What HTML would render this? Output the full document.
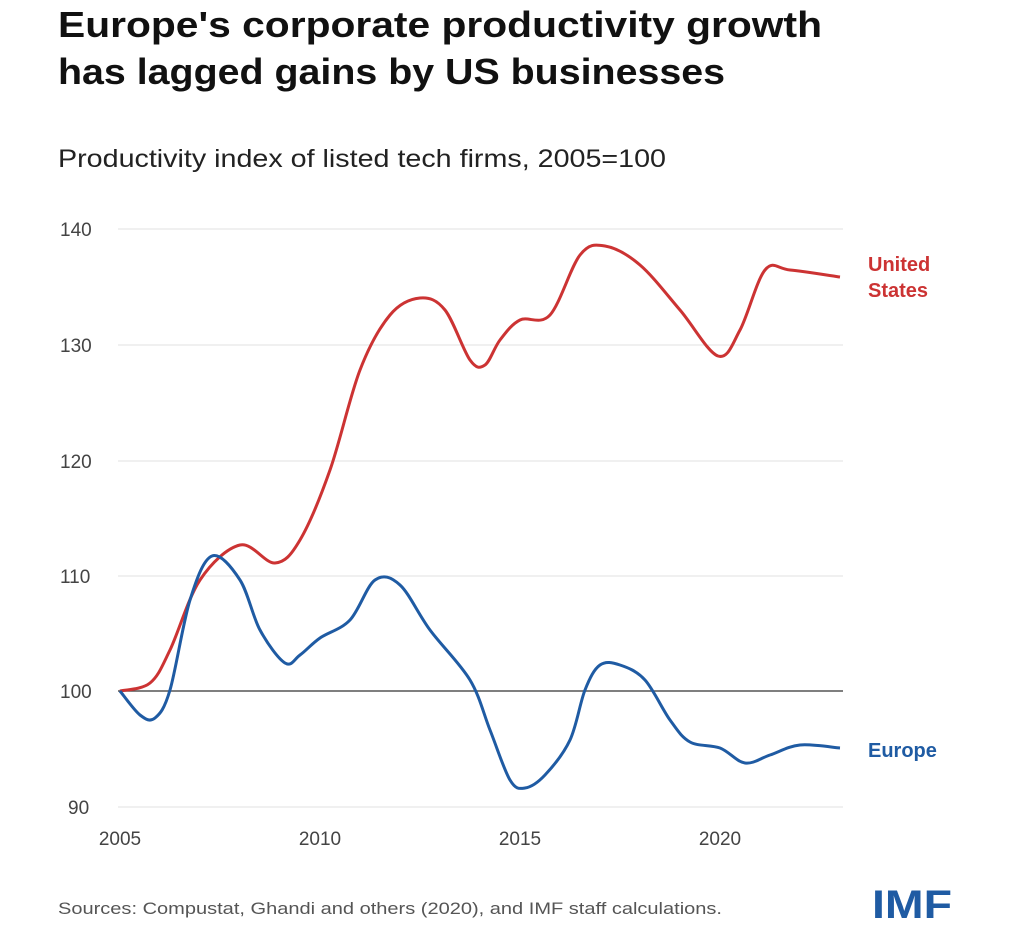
<!DOCTYPE html>
<html><head><meta charset="utf-8"><style>
body{margin:0;background:#fff;width:1024px;height:943px;overflow:hidden;font-family:"Liberation Sans",sans-serif}
</style></head><body>
<svg width="1024" height="943" xmlns="http://www.w3.org/2000/svg" font-family="Liberation Sans, sans-serif">
<text x="58" y="37" font-size="36" font-weight="bold" fill="#111" textLength="764" lengthAdjust="spacingAndGlyphs">Europe's corporate productivity growth</text>
<text x="58" y="84" font-size="36" font-weight="bold" fill="#111" textLength="667" lengthAdjust="spacingAndGlyphs">has lagged gains by US businesses</text>
<text x="58" y="167" font-size="25" fill="#222" textLength="608" lengthAdjust="spacingAndGlyphs">Productivity index of listed tech firms, 2005=100</text>
<g stroke="#e2e2e2" stroke-width="1">
<line x1="118" x2="843" y1="229" y2="229"/><line x1="118" x2="843" y1="345" y2="345"/>
<line x1="118" x2="843" y1="461" y2="461"/><line x1="118" x2="843" y1="576" y2="576"/>
<line x1="118" x2="843" y1="807" y2="807"/></g>
<line x1="118" x2="843" y1="691" y2="691" stroke="#555" stroke-width="1.5"/>
<g font-size="19" fill="#444">
<text x="60" y="236">140</text><text x="60" y="352">130</text><text x="60" y="468">120</text>
<text x="60" y="583">110</text><text x="60" y="698">100</text><text x="68" y="814">90</text>
<text x="120" y="845" text-anchor="middle">2005</text><text x="320" y="845" text-anchor="middle">2010</text>
<text x="520" y="845" text-anchor="middle">2015</text><text x="720" y="845" text-anchor="middle">2020</text></g>
<path id="us" fill="none" stroke="#cc3333" stroke-width="3"/>
<path id="eu" fill="none" stroke="#1f5ba3" stroke-width="3"/>
<text x="868" y="271" font-size="20" font-weight="bold" fill="#cc3333">United</text>
<text x="868" y="297" font-size="20" font-weight="bold" fill="#cc3333">States</text>
<text x="868" y="757" font-size="20" font-weight="bold" fill="#1f5ba3">Europe</text>
<text x="58" y="914" font-size="17" fill="#555" textLength="664" lengthAdjust="spacingAndGlyphs">Sources: Compustat, Ghandi and others (2020), and IMF staff calculations.</text>
<text x="872" y="918" font-size="40" font-weight="bold" fill="#1f5ba3" textLength="80" lengthAdjust="spacingAndGlyphs">IMF</text>
</svg>
<script>
function cr(p){let d="M"+p[0][0]+","+p[0][1];for(let i=0;i<p.length-1;i++){const a=p[Math.max(0,i-1)],b=p[i],c=p[i+1],e=p[Math.min(p.length-1,i+2)];
d+=" C"+(b[0]+(c[0]-a[0])/6)+","+(b[1]+(c[1]-a[1])/6)+" "+(c[0]-(e[0]-b[0])/6)+","+(c[1]-(e[1]-b[1])/6)+" "+c[0]+","+c[1];}return d;}
document.getElementById("us").setAttribute("d",cr([[120,691],[150,683],[170,650],[200,580],[240,545],[275,563],[300,540],[330,470],[360,370],[390,315],[420,298],[445,310],[470,360],[485,365],[500,340],[520,320],[550,315],[580,255],[605,246],[640,265],[680,310],[718,356],[740,330],[765,270],[790,270],[840,277]]));
document.getElementById("eu").setAttribute("d",cr([[120,691],[140,715],[155,718],[170,690],[190,600],[212,556],[240,580],[260,630],[285,663],[300,655],[320,638],[350,620],[375,580],[400,585],[430,630],[470,680],[490,730],[510,780],[525,788],[545,775],[570,740],[585,690],[600,665],[620,665],[645,680],[670,720],[690,742],[720,748],[745,763],[770,755],[800,745],[840,748]]));
</script>
</body></html>
